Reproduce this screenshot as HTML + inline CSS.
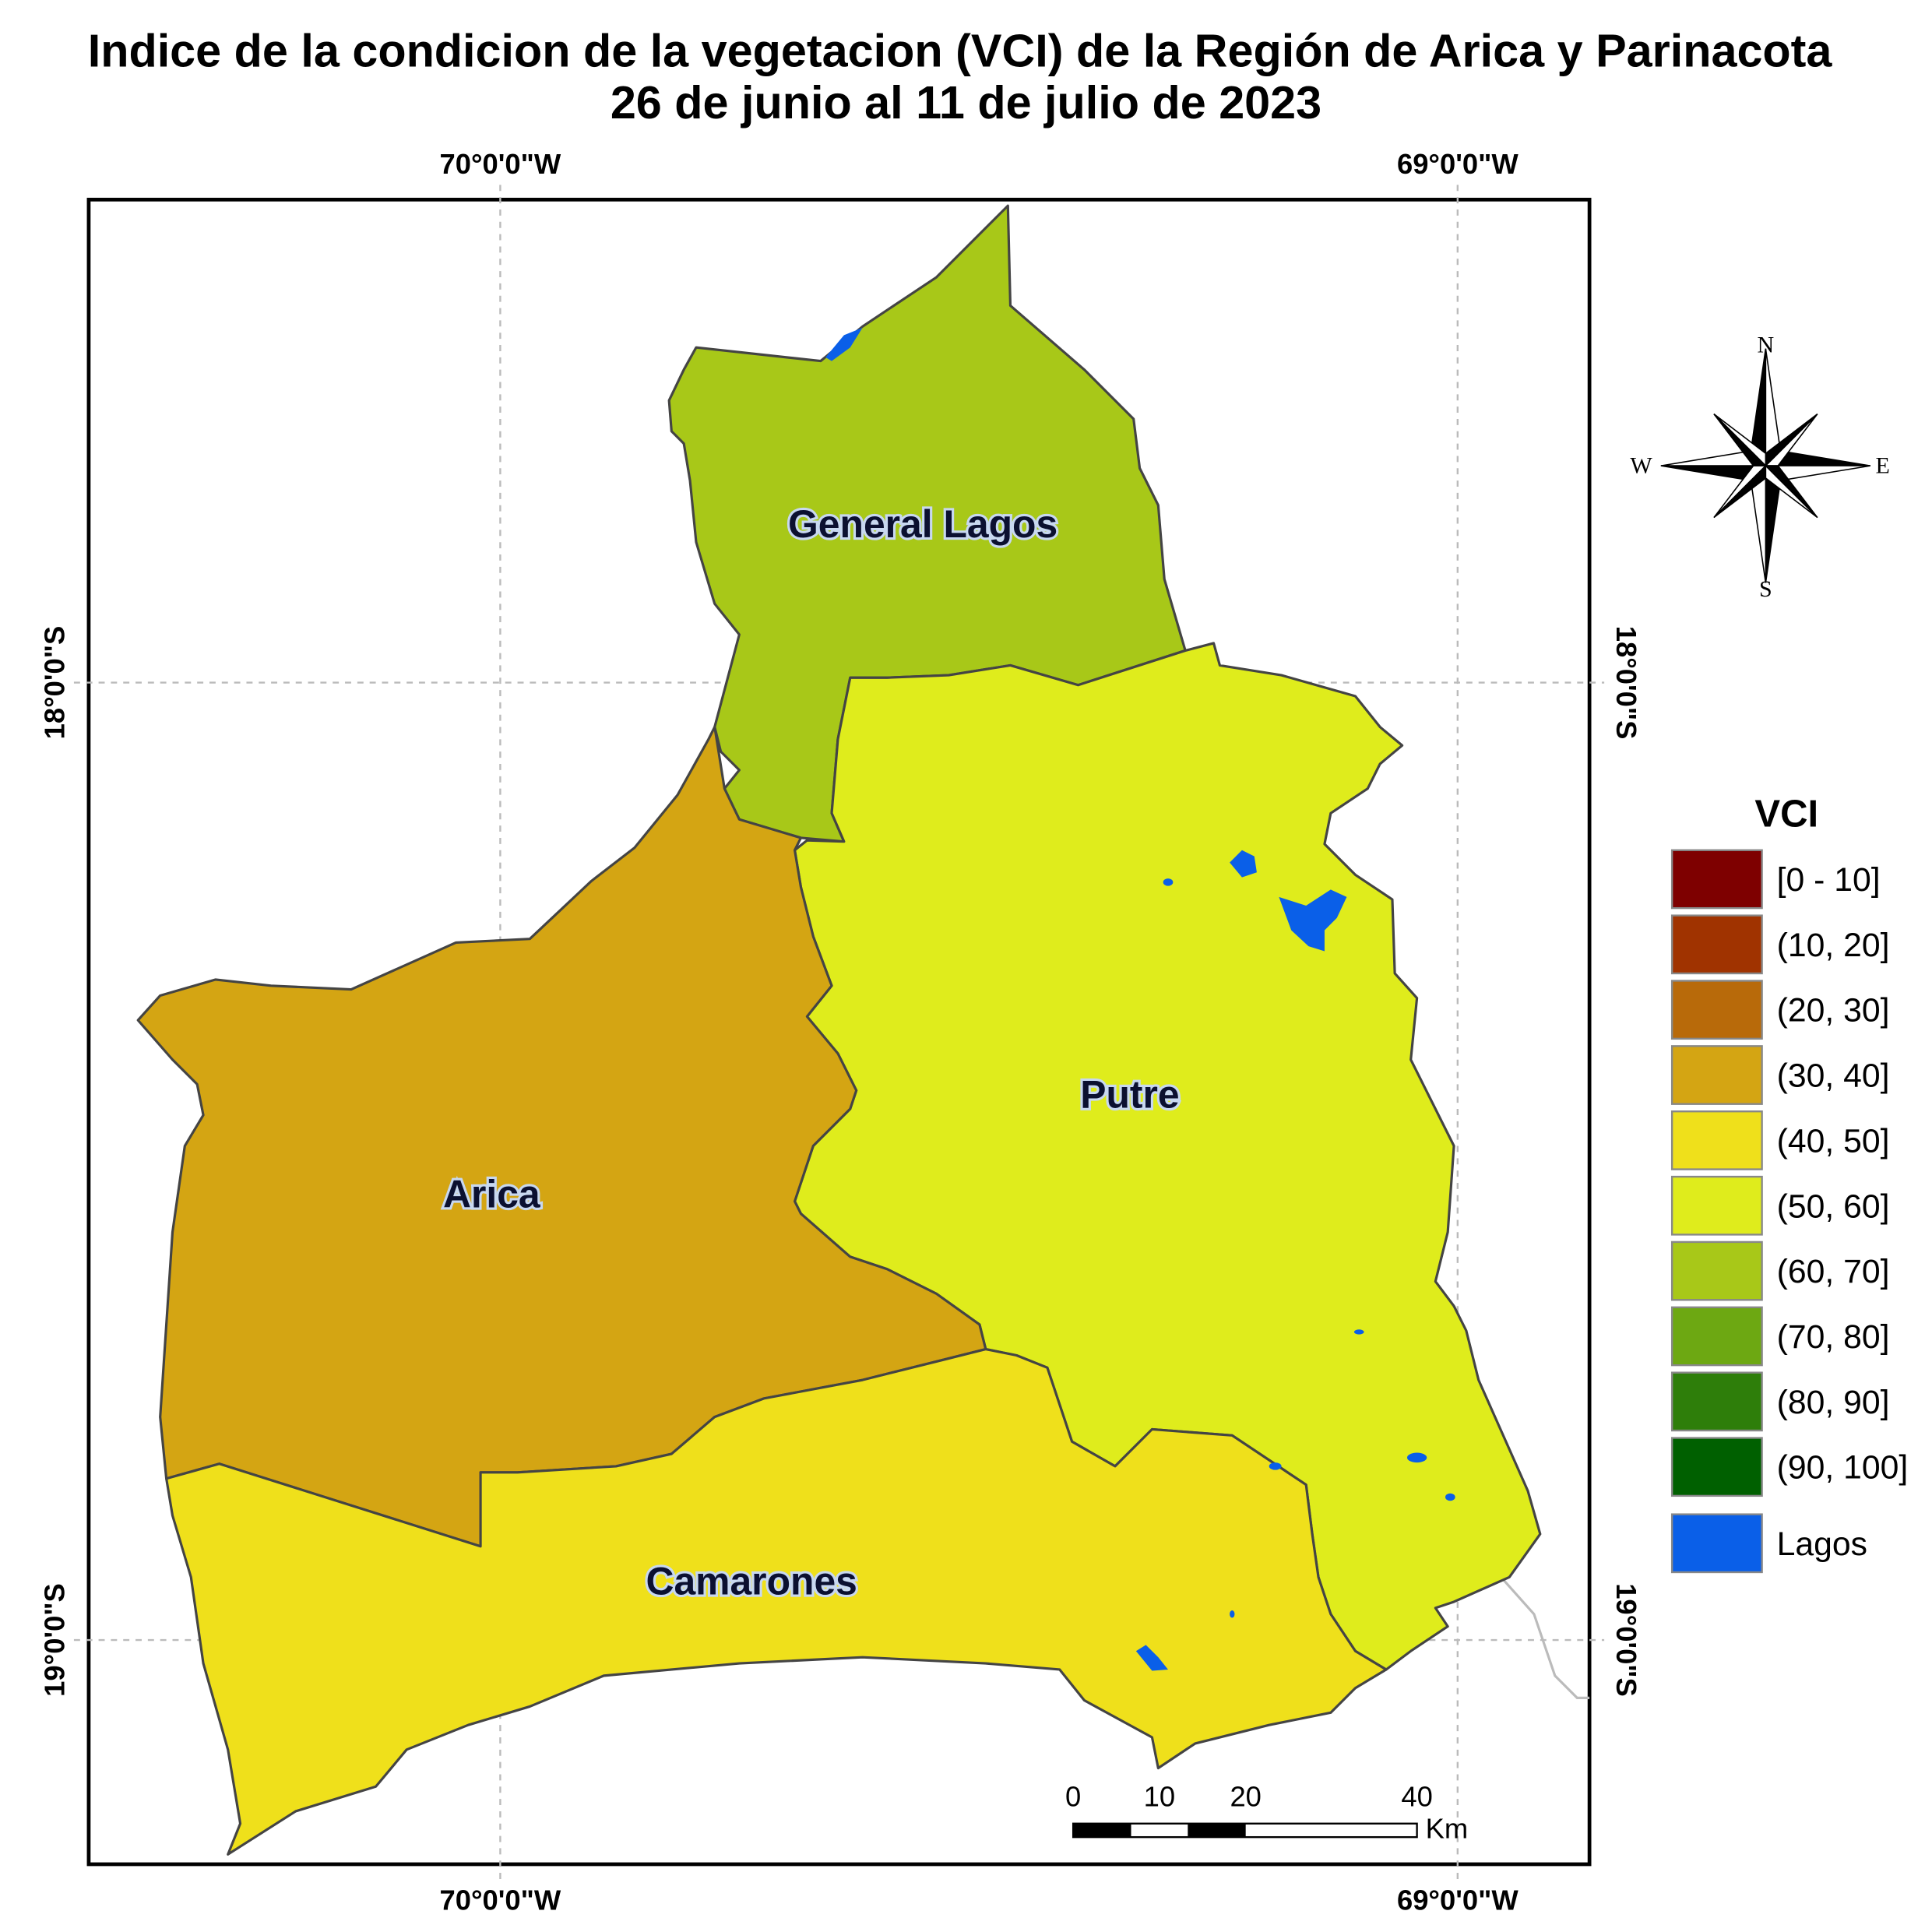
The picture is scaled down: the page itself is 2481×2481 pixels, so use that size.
<!DOCTYPE html>
<html><head><meta charset="utf-8"><style>
html,body{margin:0;padding:0;background:#fff}
svg{display:block}
text{font-family:"Liberation Sans",Arial,sans-serif}
</style></head><body>
<svg id="map" width="2481" height="2481" viewBox="0 0 1568 1568" xmlns="http://www.w3.org/2000/svg">
<rect width="1568" height="1568" fill="#fff"/>
<g font-weight="bold" font-size="37.5" text-anchor="middle" fill="#000">
<text x="779" y="54">Indice de la condicion de la vegetacion (VCI) de la Región de Arica y Parinacota</text>
<text x="784" y="96">26 de junio al 11 de julio de 2023</text>
</g>
<rect x="72" y="162" width="1218" height="1351" fill="none" stroke="#000" stroke-width="3"/>
<g stroke="#bbb" stroke-width="1.5" stroke-dasharray="5,5">
<line x1="406" y1="150" x2="406" y2="1525"/><line x1="1183" y1="150" x2="1183" y2="1525"/>
<line x1="60" y1="554" x2="1302" y2="554"/><line x1="60" y1="1331" x2="1302" y2="1331"/>
</g>
<polyline points="1220,1282 1245,1310 1262,1360 1280,1378 1290,1378" fill="none" stroke="#bbb" stroke-width="2"/>
<g stroke="#444" stroke-width="2" stroke-linejoin="round">
<polygon fill="#A8C818" points="565,282 666,293 700,265 760,225 818,167 820,248 880,300 920,340 925,380 940,410 945,470 962,528 875,556 820,540 770,548 720,550 690,550 680,600 675,660 685,683 650,680 600,665 588,640 600,625 585,610 580,590 600,515 580,490 565,440 560,390 555,360 545,350 543,325 555,300"/>
<polygon fill="#DFEC1C" points="690,550 720,550 770,548 820,540 875,556 962,528 985,522 990,540 1040,548 1100,565 1120,590 1138,605 1120,620 1110,640 1080,660 1075,685 1100,710 1130,730 1132,790 1150,810 1145,860 1170,910 1180,930 1175,1000 1165,1040 1180,1060 1190,1080 1200,1120 1240,1210 1250,1245 1225,1280 1180,1300 1165,1305 1175,1320 1145,1340 1125,1355 1100,1340 1080,1310 1070,1280 1065,1245 1060,1205 1000,1165 935,1160 905,1190 870,1170 850,1110 825,1100 800,1095 795,1075 760,1050 720,1030 690,1020 650,985 645,975 660,930 690,900 695,885 680,855 655,825 675,800 660,760 650,720 645,690 655,682 685,683 675,660 680,600"/>
<polygon fill="#D4A513" points="112,828 130,808 175,795 220,800 285,803 370,765 430,762 480,715 515,688 550,645 575,600 580,590 588,640 600,665 650,680 645,690 650,720 660,760 675,800 655,825 680,855 695,885 690,900 660,930 645,975 650,985 690,1020 720,1030 760,1050 795,1075 800,1095 760,1105 700,1120 620,1135 580,1150 545,1180 500,1190 420,1195 390,1195 390,1255 178,1188 135,1200 130,1150 140,1000 150,930 165,905 160,880 140,860"/>
<polygon fill="#EFE01B" points="135,1200 178,1188 390,1255 390,1195 420,1195 500,1190 545,1180 580,1150 620,1135 700,1120 760,1105 800,1095 825,1100 850,1110 870,1170 905,1190 935,1160 1000,1165 1060,1205 1065,1245 1070,1280 1080,1310 1100,1340 1125,1355 1100,1370 1080,1390 1030,1400 970,1415 940,1435 935,1410 880,1380 860,1355 800,1350 700,1345 600,1350 490,1360 430,1385 380,1400 330,1420 305,1450 240,1470 185,1505 195,1480 185,1420 165,1350 155,1280 140,1230"/>
</g>
<g fill="#0A5FE8">
<path d="M1038,728 L1060,735 L1080,722 L1093,728 L1085,745 L1075,755 L1075,772 L1062,768 L1048,755 Z"/>
<path d="M998,700 L1008,690 L1018,695 L1020,708 L1008,712 Z"/>
<path d="M670,290 L685,272 L700,266 L690,282 L675,293 Z"/>
<path d="M922,1340 L930,1335 L940,1345 L948,1355 L935,1356 Z"/>
<ellipse cx="1150" cy="1183" rx="8" ry="4"/><ellipse cx="1035" cy="1190" rx="5" ry="3"/>
<ellipse cx="1103" cy="1081" rx="4" ry="2"/><ellipse cx="948" cy="716" rx="4" ry="3"/>
<ellipse cx="1177" cy="1215" rx="4" ry="3"/><ellipse cx="1000" cy="1310" rx="2" ry="3"/>
</g>
<g font-weight="bold" font-size="31.5" fill="#0b1030" stroke="#c8d8f0" stroke-width="4" paint-order="stroke" text-anchor="middle">
<text x="749" y="436">General Lagos</text>
<text x="917" y="899">Putre</text>
<text x="399" y="980">Arica</text>
<text x="610" y="1294">Camarones</text>
</g>
<g font-weight="bold" font-size="23" text-anchor="middle" fill="#000">
<text x="406" y="141">70°0'0"W</text><text x="1183" y="141">69°0'0"W</text>
<text x="406" y="1550">70°0'0"W</text><text x="1183" y="1550">69°0'0"W</text>
<text transform="translate(52,554) rotate(-90)">18°0'0"S</text>
<text transform="translate(52,1331) rotate(-90)">19°0'0"S</text>
<text transform="translate(1312,554) rotate(90)">18°0'0"S</text>
<text transform="translate(1312,1331) rotate(90)">19°0'0"S</text>
</g>
<g transform="translate(1433,378)" stroke="#000" stroke-width="1">
<polygon points="0,0 -12,-12 0,-95" fill="#000"/><polygon points="0,0 12,-12 0,-95" fill="#fff"/>
<polygon points="0,0 12,12 0,95" fill="#000"/><polygon points="0,0 -12,12 0,95" fill="#fff"/>
<polygon points="0,0 12,-12 85,0" fill="#000"/><polygon points="0,0 12,12 85,0" fill="#fff"/>
<polygon points="0,0 -12,12 -85,0" fill="#000"/><polygon points="0,0 -12,-12 -85,0" fill="#fff"/>
<polygon points="0,0 10,0 42,-42" fill="#fff"/><polygon points="0,0 0,-10 42,-42" fill="#000"/>
<polygon points="0,0 -10,0 -42,42" fill="#fff"/><polygon points="0,0 0,10 -42,42" fill="#000"/>
<polygon points="0,0 0,-10 -42,-42" fill="#fff"/><polygon points="0,0 -10,0 -42,-42" fill="#000"/>
<polygon points="0,0 0,10 42,42" fill="#fff"/><polygon points="0,0 10,0 42,42" fill="#000"/>
<g style="font-family:'Liberation Serif',serif" font-size="19" stroke="none" fill="#000" text-anchor="middle">
<text style="font-family:'Liberation Serif',serif" y="-92">N</text><text style="font-family:'Liberation Serif',serif" y="106">S</text><text style="font-family:'Liberation Serif',serif" x="-101" y="6">W</text><text style="font-family:'Liberation Serif',serif" x="95" y="6">E</text></g>
</g>
<g>
<rect x="871" y="1480" width="279" height="11" fill="#fff" stroke="#000" stroke-width="1.5"/>
<rect x="871" y="1480" width="47" height="11" fill="#000"/><rect x="964" y="1480" width="47" height="11" fill="#000"/>
<g font-size="23" text-anchor="middle"><text x="871" y="1466">0</text><text x="941" y="1466">10</text><text x="1011" y="1466">20</text><text x="1150" y="1466">40</text></g>
<text x="1157" y="1492" font-size="23">Km</text>
</g>
<g id="legend">
<text x="1450" y="671" font-size="31" font-weight="bold" text-anchor="middle">VCI</text>
</g>
<script>
const legendLabels=["[0 - 10]","(10, 20]","(20, 30]","(30, 40]","(40, 50]","(50, 60]","(60, 70]","(70, 80]","(80, 90]","(90, 100]","Lagos"];
const legendColors=["#7E0000","#A03300","#B86A0A","#D4A513","#EFE01B","#DFEC1C","#A8C818","#6DA812","#2E7E0A","#006000","#0A5FE8"];
const NS="http://www.w3.org/2000/svg";
const lg=document.getElementById('legend');
legendLabels.forEach((l,i)=>{
  const y=690+i*53+(i===10?9:0);
  const r=document.createElementNS(NS,'rect');
  
  
  r.setAttribute('x',1357);r.setAttribute('y',y);r.setAttribute('width',73);r.setAttribute('height',47);
  r.setAttribute('fill',legendColors[i]);r.setAttribute('stroke','#888');r.setAttribute('stroke-width',1.5);
  lg.appendChild(r);
  const t=document.createElementNS(NS,'text');
  
  
  t.setAttribute('x',1442);t.setAttribute('y',y+33);t.setAttribute('font-size',27);
  t.textContent=l;lg.appendChild(t);
});
</script>
</svg>
</body></html>
